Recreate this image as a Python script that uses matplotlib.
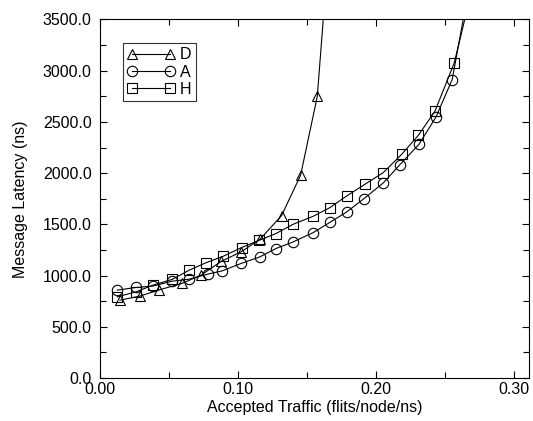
import matplotlib
matplotlib.use("Agg")
import matplotlib.pyplot as plt
from matplotlib.ticker import MultipleLocator, FormatStrFormatter

plt.rcParams["font.family"] = ["Liberation Sans", "DejaVu Sans"]

# latencia media x trafego aceito, um conjunto por algoritmo
trafego_d = [0.0145, 0.029, 0.0428, 0.0597, 0.0732, 0.088, 0.1022, 0.116, 0.1316, 0.1454, 0.1575, 0.165]
latencia_d = [760, 800, 860, 925, 1004, 1140, 1231, 1355, 1585, 1979, 2749, 4050]

trafego_a = [0.0126, 0.0261, 0.0382, 0.0522, 0.0647, 0.078, 0.0886, 0.1022, 0.116, 0.1275, 0.140,
             0.1546, 0.1667, 0.1788, 0.1913, 0.2053, 0.2174, 0.2312, 0.2435, 0.2553, 0.266]
latencia_a = [858, 884, 897, 945, 965, 1014, 1046, 1118, 1183, 1264, 1329,
              1420, 1520, 1621, 1751, 1904, 2083, 2281, 2547, 2914, 3700]

trafego_h = [0.0126, 0.0261, 0.0382, 0.0522, 0.0647, 0.0766, 0.0894, 0.1027, 0.1155, 0.1275, 0.140,
             0.1546, 0.1667, 0.1788, 0.192, 0.2053, 0.2186, 0.2307, 0.2428, 0.2567, 0.268]
latencia_h = [793, 841, 906, 962, 1053, 1124, 1189, 1274, 1345, 1410, 1501,
              1579, 1664, 1777, 1891, 2005, 2183, 2368, 2605, 3073, 3700]

fig = plt.figure(figsize=(5.33, 4.21), dpi=100)
ax = fig.add_axes([0.1876, 0.1021, 0.805, 0.8516])

estilo = dict(color="black", linewidth=0.8, fillstyle="none", markeredgewidth=0.8)
ax.plot(trafego_d, latencia_d, marker="^", markersize=7.5, label="D", **estilo)
ax.plot(trafego_a, latencia_a, marker="o", markersize=7.5, label="A", **estilo)
ax.plot(trafego_h, latencia_h, marker="s", markersize=6.8, label="H", **estilo)

ax.set_xlim(0, 0.311)
ax.set_ylim(0, 3500)
ax.xaxis.set_major_locator(MultipleLocator(0.10))
ax.xaxis.set_minor_locator(MultipleLocator(0.05))
ax.yaxis.set_major_locator(MultipleLocator(500))
ax.yaxis.set_minor_locator(MultipleLocator(250))
ax.xaxis.set_major_formatter(FormatStrFormatter("%.2f"))
ax.yaxis.set_major_formatter(FormatStrFormatter("%.1f"))

ax.tick_params(which="both", direction="in", top=True, right=True, width=0.8,
               labelsize=11.5)
ax.tick_params(which="major", length=5)
ax.tick_params(which="minor", length=4)
ax.tick_params(axis="x", pad=3)
ax.tick_params(axis="y", pad=6)
for lado in ax.spines.values():
    lado.set_linewidth(0.8)

ax.set_xlabel("Accepted Traffic (flits/node/ns)", fontsize=11.5, labelpad=2)
ax.set_ylabel("Message Latency (ns)", fontsize=11.5, labelpad=11)

leg = ax.legend(loc="upper left", bbox_to_anchor=(0.053, 0.934), numpoints=2,
                fontsize=11.5, frameon=True, fancybox=False, edgecolor="black",
                handlelength=3.0, handletextpad=0.35, borderpad=0.25,
                labelspacing=0.15, borderaxespad=0)
leg.get_frame().set_linewidth(0.8)

fig.savefig("out.png", dpi=100)
